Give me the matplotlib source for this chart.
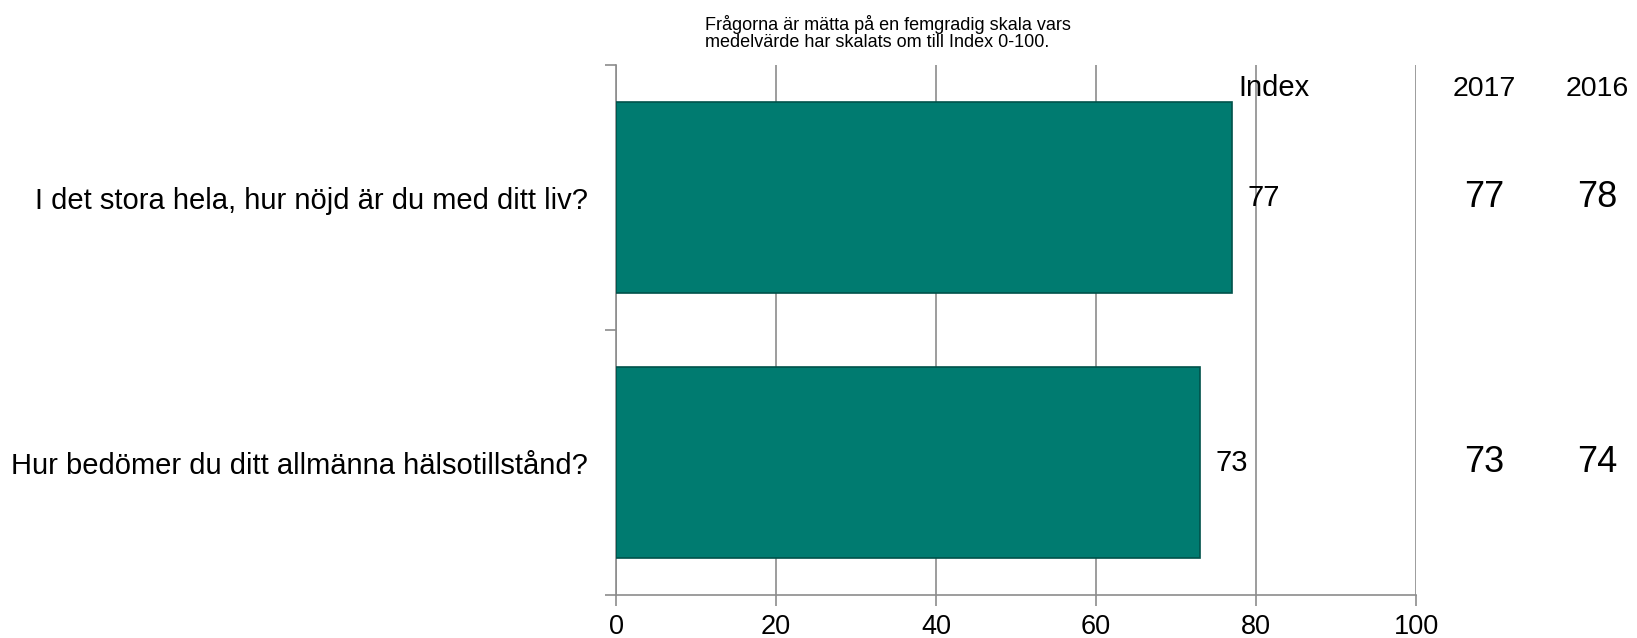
import matplotlib
matplotlib.use('Agg')
import matplotlib.pyplot as plt
from matplotlib.ticker import FixedLocator

# --- Data ---
questions = ['I det stora hela, hur nöjd är du med ditt liv?',
             'Hur bedömer du ditt allmänna hälsotillstånd?']
index_values = [77, 73]
years = ['2017', '2016']
year_values = [[77, 73], [78, 74]]
x_ticks = [0, 20, 40, 60, 80, 100]
caption = 'Frågorna är mätta på en femgradig skala vars\nmedelvärde har skalats om till Index 0-100.'

# --- Style ---
plt.rcParams['font.family'] = ['Liberation Sans', 'DejaVu Sans']
BAR_COLOR = '#007B70'
EDGE_COLOR = '#00524A'
GRID_COLOR = '#8C8C8C'

fig = plt.figure(figsize=(16.37, 6.38), dpi=100)
ax = fig.add_axes([0.3763, 0.0674, 0.4887, 0.8307])

ypos = list(range(len(questions)))
ax.barh(ypos, index_values, height=0.72, color=BAR_COLOR,
        edgecolor=EDGE_COLOR, linewidth=1.2, zorder=3)

ax.set_xlim(0, 100)
ax.set_ylim(len(questions) - 0.5, -0.5)

# x axis
ax.set_xticks(x_ticks)
ax.set_xticklabels([str(t) for t in x_ticks], fontsize=19.5)
ax.tick_params(axis='x', length=8, width=1.2, color=GRID_COLOR, pad=5.5)
ax.grid(axis='x', color=GRID_COLOR, linewidth=1.2, zorder=0)

# y axis: labels at centres, tick marks at boundaries
ax.set_yticks(ypos)
ax.set_yticklabels(questions, fontsize=21)
ax.tick_params(axis='y', which='major', length=0, pad=20)
ax.yaxis.set_minor_locator(FixedLocator([-0.5, 0.5, 1.5]))
ax.tick_params(axis='y', which='minor', length=8, width=1.2, color=GRID_COLOR)

for side in ['top', 'right']:
    ax.spines[side].set_visible(False)
for side in ['left', 'bottom']:
    ax.spines[side].set_color(GRID_COLOR)
    ax.spines[side].set_linewidth(1.2)

# value labels next to bars
for i, v in enumerate(index_values):
    ax.text(v + 1.9, i, str(v), va='center', ha='left', fontsize=21, zorder=4)

# right-hand year columns
ax.text(77.8, -0.415, 'Index', ha='left', va='center', fontsize=21, clip_on=False)
year_x = [108.5, 122.6]
for j, yr in enumerate(years):
    ax.text(year_x[j], -0.41, yr, ha='center', va='center', fontsize=20.5, clip_on=False)
    for i, v in enumerate(year_values[j]):
        ax.text(year_x[j], i, str(v), ha='center', va='center', fontsize=26, clip_on=False)

fig.text(705 / 1637, 1 - 33 / 638, caption, ha='left', va='center',
         fontsize=13, linespacing=1.05)

fig.savefig('out.png', dpi=100)
